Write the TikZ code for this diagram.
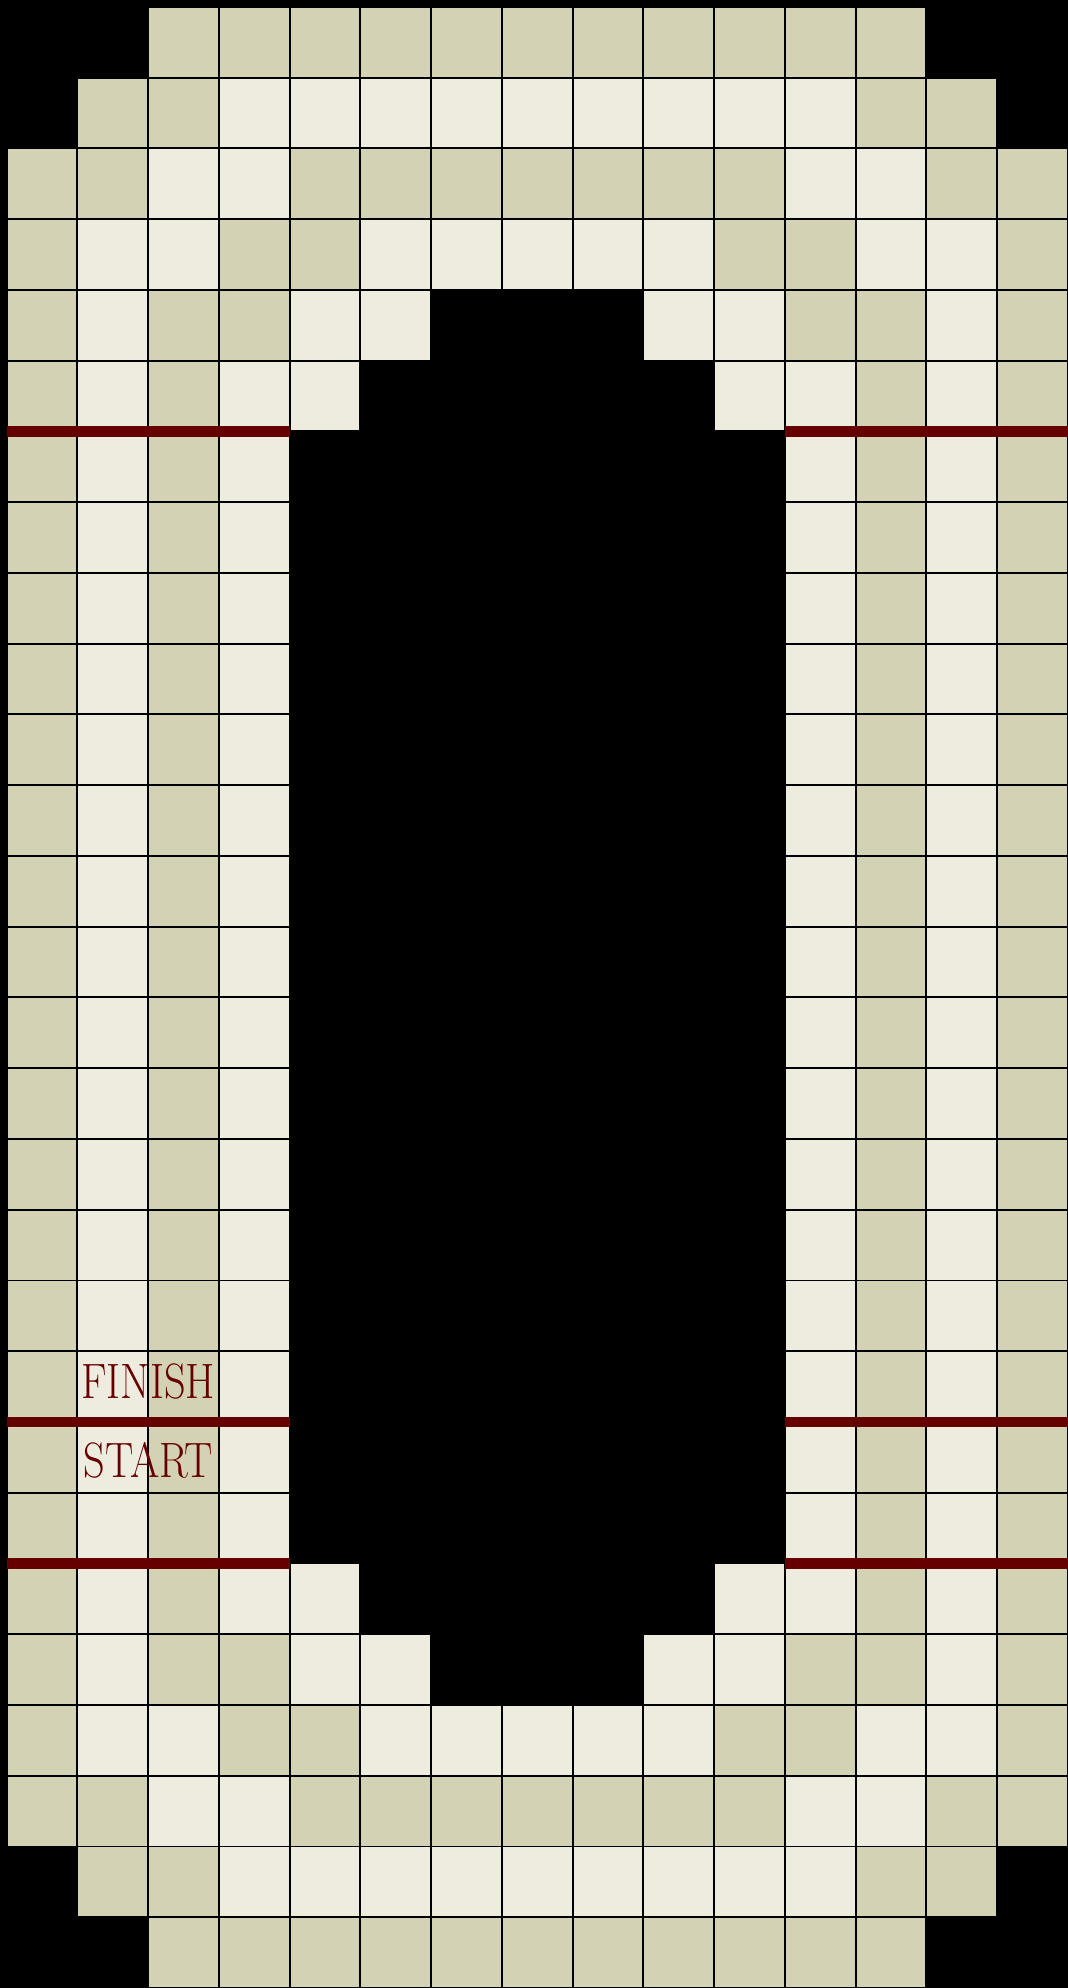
\documentclass[tikz,border=0pt]{standalone}
\usepackage{fontspec}
\usepackage{tikz}
\usepackage{xcolor}
\definecolor{tan}{RGB}{211,210,180}
\definecolor{pale}{RGB}{237,236,223}
\definecolor{lap}{RGB}{102,0,0}

\begin{document}
\begin{tikzpicture}[x=1cm,y=1cm,line cap=butt,
  tn/.style={fill=tan,draw=black,line width=0.8pt},
  lt/.style={fill=pale,draw=black,line width=0.8pt},
  bk/.style={},
  lapline/.style={lap,line width=4.2pt},
  lapword/.style={text=lap,font=\fontsize{20}{22}\selectfont,xscale=0.85,inner sep=0pt}]
\useasboundingbox (-0.095,0) rectangle (15,28.099);
\fill[black] (-0.095,0) rectangle (15,28.099);
\foreach \r/\row in {0/{bk,bk,tn,tn,tn,tn,tn,tn,tn,tn,tn,tn,tn,bk,bk},
                     1/{bk,tn,tn,lt,lt,lt,lt,lt,lt,lt,lt,lt,tn,tn,bk},
                     2/{tn,tn,lt,lt,tn,tn,tn,tn,tn,tn,tn,lt,lt,tn,tn},
                     3/{tn,lt,lt,tn,tn,lt,lt,lt,lt,lt,tn,tn,lt,lt,tn},
                     4/{tn,lt,tn,tn,lt,lt,bk,bk,bk,lt,lt,tn,tn,lt,tn},
                     5/{tn,lt,tn,lt,lt,bk,bk,bk,bk,bk,lt,lt,tn,lt,tn}}
  \foreach \k [count=\c from 0] in \row {
    \path[\k] (\c,27-\r) rectangle ++(1,1);
    \path[\k] (\c,\r) rectangle ++(1,1);
  };
\foreach \r in {6,...,21}
  \foreach \k [count=\c from 0] in {tn,lt,tn,lt,bk,bk,bk,bk,bk,bk,bk,lt,tn,lt,tn}
    \path[\k] (\c,\r) rectangle ++(1,1);
\foreach \y in {22,8,6} {
  \draw[lapline] (0,\y) -- (4,\y);
  \draw[lapline] (11,\y) -- (15,\y);
}
\node[lapword] (finish) at (2,8.57) {FINISH};
\node[lapword] (start) at (2,7.46) {START};
\end{tikzpicture}
\end{document}
